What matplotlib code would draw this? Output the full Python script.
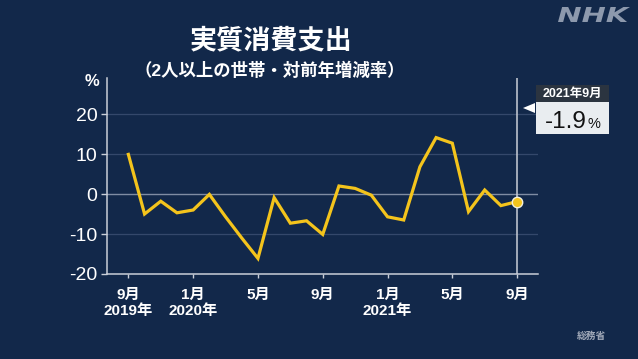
import numpy as np
import matplotlib
matplotlib.use("Agg")
import matplotlib.pyplot as plt
from matplotlib.patches import Rectangle, Polygon, PathPatch
from matplotlib.textpath import TextPath
from matplotlib.font_manager import FontProperties
from matplotlib.transforms import Affine2D

plt.rcParams['font.family'] = ['Liberation Sans', 'Noto Sans CJK JP', 'DejaVu Sans']

# ============================================================
# DATA  (Sep 2019 .. Sep 2021, monthly, % change y/y)
# ============================================================

values = [9.9, -5.0, -1.8, -4.7, -4.0, -0.1, -5.7, -11.0, -16.1, -0.9,
          -7.3, -6.7, -10.1, 2.0, 1.4, -0.3, -5.7, -6.5, 6.8, 14.1,
          12.7, -4.4, 1.0, -2.9, -1.9]
tick_months = ["9月", "1月", "5月", "9月", "1月", "5月", "9月"]
tick_years = ["2019年", "2020年", "", "", "2021年", "", ""]
y_ticks = [20, 10, 0, -10, -20]
grid_lines = [20, 10, -10]

title = "実質消費支出"
subtitle = "（2人以上の世帯・対前年増減率）"
callout_date = "2021年9月"
callout_value = "-1.9"
source = "総務省"

# ============================================================
# STYLE
# ============================================================

W, H = 638, 359
BG = "#12284a"
YELLOW = "#f4c41c"
AXIS = "#c9ced8"


def px(x, y):
    # pixel position -> figure fraction
    return x / W, 1 - y / H


fig = plt.figure(figsize=(W / 100, H / 100), dpi=100, facecolor=BG)

x0, x1, y0, y1 = 106.5, 538, 78, 274
ax = fig.add_axes([x0 / W, 1 - y1 / H, (x1 - x0) / W, (y1 - y0) / H])
ax.set_facecolor(BG)

months = np.arange(len(values))

for g in grid_lines:
    ax.axhline(g, color="#34486b", lw=0.9, zorder=1)
ax.axhline(0, color="#7f8ca3", lw=1.0, zorder=1)

ax.axvline(months[-1], color=AXIS, lw=1.1, zorder=2)
ax.plot(months, values, color=YELLOW, lw=2.3, solid_joinstyle="miter", zorder=3)
ax.plot(months[-1], values[-1], "o", ms=7.5, color=YELLOW, mec="#f4f0dc", mew=1.0, zorder=4)

ax.set_xlim(-1.35, 25.29)
ax.set_ylim(-20, 29)

for s in ["top", "right"]:
    ax.spines[s].set_visible(False)
for s in ["left", "bottom"]:
    ax.spines[s].set_color(AXIS)
    ax.spines[s].set_linewidth(1.1)

ax.set_yticks(y_ticks)
ax.set_yticklabels([str(v) for v in y_ticks])
ax.tick_params(axis="y", colors=AXIS, labelcolor="white", length=4.5, width=1.0,
               pad=2, labelsize=14)

ax.set_xticks(months[::4])
ax.set_xticklabels([f"{m}\n{y}" for m, y in zip(tick_months, tick_years)],
                   linespacing=1.2, fontweight="bold")
ax.tick_params(axis="x", colors=AXIS, labelcolor="white", length=3, width=1.0,
               pad=7, labelsize=11)

# ============================================================
# TEXTS
# ============================================================

fig.text(*px(271, 41), title, color="white", fontsize=19.5, fontweight="bold",
         ha="center", va="center")
fig.text(*px(270, 70), subtitle, color="white", fontsize=12.5, fontweight="bold",
         ha="center", va="center")
fig.text(*px(92, 82), "%", color="white", fontsize=12, fontweight="bold",
         ha="center", va="center")
fig.text(*px(591, 336), source, color="#a3abba", fontsize=7, fontweight="bold",
         ha="center", va="center")

# NHK logo, stretched wide
logo = TextPath((0, 0), "NHK", size=1,
                prop=FontProperties(family="DejaVu Sans", weight="bold", style="italic"))
bb = logo.get_extents()
sx, sy = 72 / bb.width, 15 / bb.height
logo_tr = Affine2D().translate(-bb.x0, -bb.y0).scale(sx, sy).translate(558, H - 22)
fig.add_artist(PathPatch(logo, transform=logo_tr, facecolor="#8d99ad",
                         edgecolor="none"))

# callout
fx, fy = px(536, 102)
fig.patches.append(Rectangle((fx, fy), 73 / W, 17 / H, transform=fig.transFigure,
                             facecolor="#2b3440", edgecolor="none"))
fx, fy = px(536, 134)
fig.patches.append(Rectangle((fx, fy), 73 / W, 32 / H, transform=fig.transFigure,
                             facecolor="#e9edf0", edgecolor="none"))
fig.patches.append(Polygon([px(523, 108), px(535, 103), px(535, 113)], closed=True,
                           transform=fig.transFigure, facecolor="white",
                           edgecolor="none"))
fig.text(*px(572.5, 93.5), callout_date, color="white", fontsize=9,
         fontweight="bold", ha="center", va="center")
fig.text(*px(587, 128), callout_value, color="#111111", fontsize=17.5,
         ha="right", va="baseline")
fig.text(*px(588, 128), "%", color="#111111", fontsize=10.5,
         ha="left", va="baseline")

fig.savefig("out.png", dpi=100, facecolor=BG)
